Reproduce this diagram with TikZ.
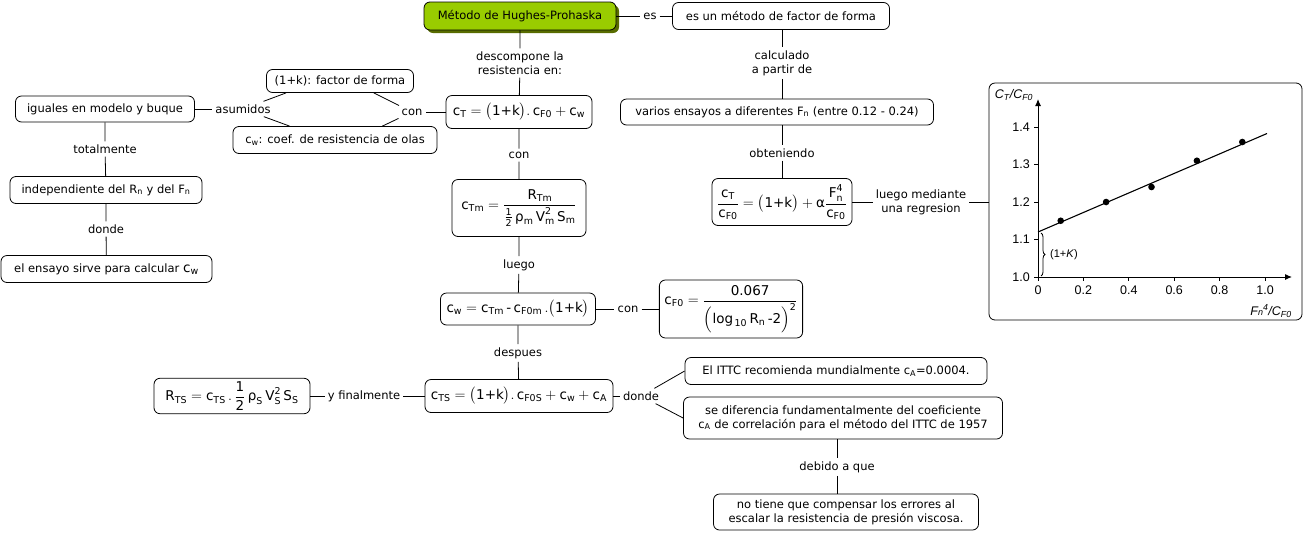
\documentclass[tikz,border=0pt]{standalone}
\usepackage{fontspec}
\usepackage{amsmath}
\setmainfont{DejaVu Sans}
\newfontfamily\graphfont{Liberation Sans}
\usetikzlibrary{shadows,decorations.pathreplacing,arrows.meta}
\definecolor{titlegreen}{RGB}{153,204,0}
\definecolor{titleshadow}{RGB}{88,108,0}
\newcommand\vv[2]{\text{#1}_{\text{#2}}}
\newcommand\mfont{\fontsize{11.5}{14}\selectfont}
\newcommand\ffont{\fontsize{13.5}{16}\selectfont}
\begin{document}
\begin{tikzpicture}[x=1pt,y=-1pt,
 box/.style={draw, rounded corners=6pt, fill=white, line width=0.8pt, align=center, inner xsep=5pt, inner ysep=3pt, font=\mfont},
 fbox/.style={box, font=\ffont},
 lbl/.style={inner xsep=3pt, inner ysep=3pt, align=center, font=\mfont},
 conn/.style={line width=0.8pt},
 gfont/.style={font=\graphfont\fontsize{12.5}{14}\selectfont}]
\useasboundingbox (0,0) rectangle (1303,539);

% top
\node[box, fill=titlegreen, drop shadow={shadow xshift=3pt, shadow yshift=-3pt, fill=titleshadow, opacity=1}, minimum width=192, minimum height=28] (title) at (520,16) {Método de Hughes-Prohaska};
\node[lbl] (es) at (650,16) {es};
\node[box, minimum width=217, minimum height=27] (esun) at (781,16) {es un método de factor de forma};
\node[lbl] (desc) at (520,63) {descompone la\\resistencia en:};
\node[fbox, minimum width=146, minimum height=33] (cT) at (519,112) {$\vv{c}{T} = \bigl(\text{1+k}\bigr).\,\vv{c}{F0} + \vv{c}{w}$};

% left
\node[lbl] (con1) at (412,112) {con};
\node[box, minimum width=147, minimum height=23] (onek) at (340,81) {(1+k): factor de forma};
\node[box, minimum width=204, minimum height=27] (cwbox) at (335,140) {$\vv{c}{w}$: coef. de resistencia de olas};
\node[lbl] (asum) at (243,109) {asumidos};
\node[box, minimum width=179, minimum height=26] (iguales) at (105,109) {iguales en modelo y buque};
\node[lbl] (total) at (105,149) {totalmente};
\node[box, minimum width=192, minimum height=27] (indep) at (106,190) {independiente del $\vv{R}{n}$ y del $\vv{F}{n}$};
\node[lbl] (donde1) at (106,229) {donde};
\node[box, minimum width=211, minimum height=27] (ensayo) at (106.5,269) {el ensayo sirve para calcular {\ffont$\vv{c}{w}$}};

% centre column
\node[lbl] (con2) at (519,155) {con};
\node[fbox, minimum width=134, minimum height=57] (cTm) at (519,208) {$\vv{c}{Tm} = \dfrac{\vv{R}{Tm}}{\frac{\text{1}}{\text{2}}\,\text{ρ}_{\text{m}}\,\text{V}^{\text{2}}_{\text{m}}\,\vv{S}{m}}$};
\node[lbl] (luego) at (519,265) {luego};
\node[fbox, minimum width=155, minimum height=32] (cw) at (518,309) {$\vv{c}{w} = \vv{c}{Tm}\,\text{-}\,\vv{c}{F0m}\,.\bigl(\text{1+k}\bigr)$};
\node[lbl] (con3) at (628,309) {con};
\node[fbox, minimum width=141, minimum height=58] (cF0) at (731,309) {$\vv{c}{F0} = \dfrac{\text{0.067}}{\Bigl(\text{log}_{\,\text{10}}\,\vv{R}{n}\,\text{-2}\Bigr)^{\text{2}}}$};
\node[lbl] (despues) at (518,353) {despues};
\node[fbox, minimum width=188, minimum height=33] (cTS) at (519,396) {$\vv{c}{TS} = \bigl(\text{1+k}\bigr).\,\vv{c}{F0S} + \vv{c}{w} + \vv{c}{A}$};
\node[lbl] (yfin) at (364,396) {y finalmente};
\node[fbox, minimum width=156, minimum height=34] (RTS) at (232,396) {$\vv{R}{TS} = \vv{c}{TS}\,.\,\dfrac{\text{1}}{\text{2}}\,\text{ρ}_{\text{S}}\,\text{V}^{\text{2}}_{\text{S}}\,\vv{S}{S}$};
\node[lbl] (donde2) at (641,396) {donde};
\node[box, minimum width=302, minimum height=27] (ittc) at (836,371) {El ITTC recomienda mundialmente $\vv{c}{A}\text{=0.0004.}$};
\node[box, minimum width=319, minimum height=42] (sedif) at (843,418) {se diferencia fundamentalmente del coeficiente\\$\vv{c}{A}$ de correlación para el método del ITTC de 1957};
\node[lbl] (debido) at (837,467) {debido a que};
\node[box, minimum width=265, minimum height=36] (notiene) at (846,512) {no tiene que compensar los errores al\\escalar la resistencia de presión viscosa.};

% right column
\node[lbl] (calc) at (782,63) {calculado\\a partir de};
\node[box, minimum width=313, minimum height=26] (varios) at (777,112) {varios ensayos a diferentes $\vv{F}{n}$ (entre 0.12 - 0.24)};
\node[lbl] (obten) at (782,153) {obteniendo};
\node[fbox, minimum width=140, minimum height=47] (ratio) at (782,202) {$\dfrac{\vv{c}{T}}{\vv{c}{F0}} = \bigl(\text{1+k}\bigr) + \text{α}\dfrac{\text{F}^{\text{4}}_{\text{n}}}{\vv{c}{F0}}$};
\node[lbl] (luegom) at (921,202) {luego mediante\\una regresion};
\node[box, minimum width=313, minimum height=237] (graph) at (1145.5,201.5) {};

% connectors
\draw[conn] (title) -- (es) -- (esun);
\draw[conn] (title) -- (desc) -- (cT);
\draw[conn] (esun.south -| calc) -- (calc) -- (calc |- varios.north);
\draw[conn] (varios.south -| obten) -- (obten) -- (ratio);
\draw[conn] (ratio) -- (luegom) -- (luegom -| graph.west);
\draw[conn] (cT) -- (con1);
\draw[conn] (con1) -- ([xshift=-40pt]onek.south east);
\draw[conn] (con1) -- ([xshift=-55pt]cwbox.north east);
\draw[conn] (asum) -- ([xshift=20pt]onek.south west);
\draw[conn] (asum) -- ([xshift=57pt]cwbox.north west);
\draw[conn] (iguales) -- (asum);
\draw[conn] (iguales) -- (total) -- (indep) -- (donde1) -- (ensayo);
\draw[conn] (cT) -- (con2) -- (cTm) -- (luego) -- (cw) -- (despues) -- (cTS);
\draw[conn] (cw) -- (con3) -- (cF0);
\draw[conn] (RTS) -- (yfin) -- (cTS);
\draw[conn] (cTS) -- (donde2);
\draw[conn] (donde2) -- (ittc.west);
\draw[conn] (donde2) -- (sedif.west);
\draw[conn] (sedif.south -| debido) -- (debido) -- (debido |- notiene.north);

% graph contents
\begin{scope}[gfont]
\draw[line width=1pt, -{Latex[length=7pt,width=6pt]}] (1038,278) -- (1038,99);
\draw[line width=1pt, -{Latex[length=7pt,width=6pt]}] (1037,277) -- (1292,277);
\foreach \v/\yy [count=\i] in {1.0/277,1.1/239.5,1.2/202,1.3/164.5,1.4/127} {
  \draw[line width=0.8pt] (1034,\yy) -- (1038,\yy);
  \node[anchor=east, inner sep=1pt] (ytl\i) at (1031,\yy) {\v};
}
\foreach \v/\xx [count=\i] in {0/1038,0.2/1083.4,0.4/1128.8,0.6/1174.2,0.8/1219.6,1.0/1265} {
  \draw[line width=0.8pt] (\xx,277) -- (\xx,281);
  \node[inner sep=1pt] (xtl\i) at (\xx,290) {\v};
}
\draw[line width=1.1pt] (1038,232) -- (1267,133.5);
\foreach \px/\py in {1060.7/220.75,1106.1/202,1151.5/187,1196.9/160.75,1242.3/142}
  \fill (\px,\py) circle (3.3pt);
\draw[line width=0.8pt, decorate, decoration={brace, amplitude=4pt}] (1041,233) -- (1041,276);
\node[anchor=west, inner sep=1pt, font=\graphfont\fontsize{11}{13}\selectfont] (brlab) at (1049,255) {(1+\textit{K})};
\node[inner sep=1pt] (ylab) at (1014,95) {\itshape C\textsubscript{T}/C\textsubscript{F0}};
\node[inner sep=1pt] (xlab) at (1271,311) {\itshape F{\small n}\textsuperscript{4}/C\textsubscript{F0}};
\end{scope}
\end{tikzpicture}
\end{document}
